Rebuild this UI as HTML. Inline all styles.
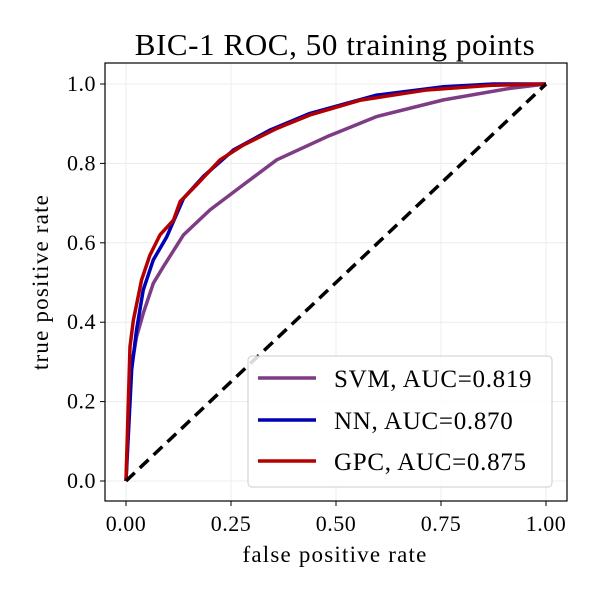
<!DOCTYPE html>
<html><head><meta charset="utf-8"><style>
body{margin:0;background:#fff;}
svg text{font-family:"Liberation Serif",serif;fill:#000;}
</style></head><body>
<svg id="chart" width="600" height="600">
<text x="335" y="55" font-size="31" letter-spacing="0.6" text-anchor="middle">BIC-1 ROC, 50 training points</text>
<g id="grid"></g>
<g id="series"></g>
<rect x="105" y="63" width="462" height="438" fill="none" stroke="#000" stroke-width="1.2"/>
<g id="ticks"></g>
<text x="335" y="562" font-size="23" letter-spacing="1.2" text-anchor="middle">false positive rate</text>
<text transform="translate(48,282) rotate(-90)" font-size="23" letter-spacing="1.2" text-anchor="middle">true positive rate</text>
<g>
<rect x="248" y="356" width="304" height="131" rx="4" fill="#fff" fill-opacity="0.85" stroke="#ccc"/>
<line x1="258" y1="378" x2="316" y2="378" stroke="#7d3c84" stroke-width="3.5"/>
<text x="334" y="387" font-size="25" letter-spacing="0.7">SVM, AUC=0.819</text>
<line x1="258" y1="420" x2="316" y2="420" stroke="#0000b4" stroke-width="3.5"/>
<text x="334" y="429" font-size="25" letter-spacing="0.7">NN, AUC=0.870</text>
<line x1="258" y1="461" x2="316" y2="461" stroke="#b40000" stroke-width="3.5"/>
<text x="334" y="470" font-size="25" letter-spacing="0.7">GPC, AUC=0.875</text>
</g>
</svg>
<script>
const xTicks=[0,0.25,0.5,0.75,1];
const xTickLabels=["0.00","0.25","0.50","0.75","1.00"];
const yTicks=[0,0.2,0.4,0.6,0.8,1];
const yTickLabels=["0.0","0.2","0.4","0.6","0.8","1.0"];
const svmFpr=[0,0.0095,0.025,0.041,0.065,0.089,0.137,0.2,0.279,0.359,0.478,0.597,0.756,0.914,1];
const svmTpr=[0,0.263,0.363,0.422,0.498,0.54,0.62,0.683,0.746,0.809,0.867,0.918,0.96,0.989,1];
const nnFpr=[0,0.0135,0.025,0.041,0.065,0.097,0.137,0.184,0.256,0.343,0.438,0.597,0.756,0.875,1];
const nnTpr=[0,0.28,0.38,0.481,0.557,0.615,0.712,0.767,0.834,0.884,0.926,0.972,0.993,1,1];
const gpcFpr=[0,0.0095,0.0175,0.037,0.057,0.081,0.113,0.129,0.168,0.224,0.279,0.359,0.438,0.557,0.716,0.875,1];
const gpcTpr=[0,0.338,0.405,0.506,0.569,0.62,0.657,0.704,0.746,0.809,0.846,0.888,0.922,0.959,0.985,0.997,1];
const NS="http://www.w3.org/2000/svg";
const sx=v=>126+v*420, sy=v=>481-v*397;
const grid=document.getElementById('grid'),ticks=document.getElementById('ticks'),series=document.getElementById('series');
function mk(t,a,p){const e=document.createElementNS(NS,t);for(const k in a)e.setAttribute(k,a[k]);p.appendChild(e);return e;}
xTicks.forEach((v,i)=>{
 const g=mk('line',{x1:sx(v),x2:sx(v),y1:63,y2:501,stroke:'#ececec','stroke-width':1},grid);
 
 
 const t=mk('line',{x1:sx(v),x2:sx(v),y1:501,y2:506,stroke:'#000'},ticks);
 
 
 const l=mk('text',{x:sx(v),y:531,'font-size':22,'letter-spacing':0.5,'text-anchor':'middle'},ticks);l.textContent=xTickLabels[i];
 
 
});
yTicks.forEach((v,i)=>{
 const g=mk('line',{x1:105,x2:567,y1:sy(v),y2:sy(v),stroke:'#ececec','stroke-width':1},grid);
 
 
 const t=mk('line',{x1:100,x2:105,y1:sy(v),y2:sy(v),stroke:'#000'},ticks);
 
 
 const l=mk('text',{x:96,y:sy(v)+7,'font-size':22,'letter-spacing':0.5,'text-anchor':'end'},ticks);l.textContent=yTickLabels[i];
 
 
});
function line(xs,ys,c,name){
 const p=mk('polyline',{points:xs.map((x,i)=>sx(x)+','+sy(ys[i])).join(' '),fill:'none',stroke:c,'stroke-width':3.5,'stroke-linejoin':'round'},series);
 
 
}
line(svmFpr,svmTpr,'#7d3c84','svm-roc-line');
line(nnFpr,nnTpr,'#0000b4','nn-roc-line');
line(gpcFpr,gpcTpr,'#b40000','gpc-roc-line');
const d=mk('line',{x1:sx(0),y1:sy(0),x2:sx(1),y2:sy(1),stroke:'#000','stroke-width':3.5,'stroke-dasharray':'12,7'},series);


</script>
</body></html>
